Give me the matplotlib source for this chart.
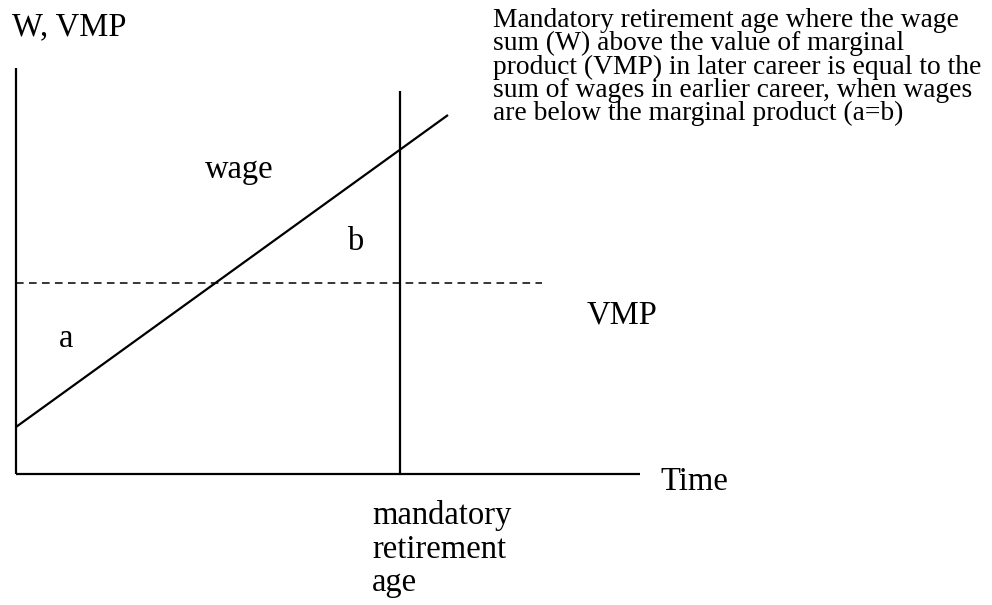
import matplotlib
matplotlib.use('Agg')
import matplotlib.pyplot as plt

plt.rcParams['font.family'] = ['Liberation Serif', 'DejaVu Serif']

W, H = 992, 605

# diagram geometry in picture pixels (x right, y down)
y_axis = ([16, 16], [68, 474])
x_axis = ([16, 640], [474, 474])
retire_line = ([400, 400], [91, 474])
wage_line = ([16, 448], [427, 115])
vmp_line = ([16, 542], [283, 283])

labels = [
    ('W, VMP', 12, 35),
    ('wage', 205, 178),
    ('b', 347, 250),
    ('a', 59, 347),
    ('VMP', 587, 323),
    ('Time', 660, 490),
    ('mandatory', 372, 524),
    ('retirement', 372, 558),
    ('age', 372, 591),
]

note_lines = [
    'Mandatory retirement age where the wage',
    'sum (W) above the value of marginal',
    'product (VMP) in later career is equal to the',
    'sum of wages in earlier career, when wages',
    'are below the marginal product (a=b)',
]
note_x, note_y0, note_step = 493, 27, 23.3

fig = plt.figure(figsize=(W / 100, H / 100), dpi=100, facecolor='white')
ax = fig.add_axes([0, 0, 1, 1])
ax.set_xlim(0, W)
ax.set_ylim(H, 0)
ax.axis('off')

for xs, ys in (y_axis, x_axis, retire_line, wage_line):
    ax.plot(xs, ys, color='black', linewidth=1.6, solid_capstyle='butt')
ax.plot(vmp_line[0], vmp_line[1], color='black', linewidth=1.1,
        linestyle=(0, (5, 3.5)))

for txt, x, y in labels:
    ax.text(x, y, txt, fontsize=23.5, ha='left', va='baseline', color='black')

for i, line in enumerate(note_lines):
    ax.text(note_x, note_y0 + i * note_step, line, fontsize=19.8,
            ha='left', va='baseline', color='black')

fig.savefig('out.png', dpi=100, facecolor='white')
